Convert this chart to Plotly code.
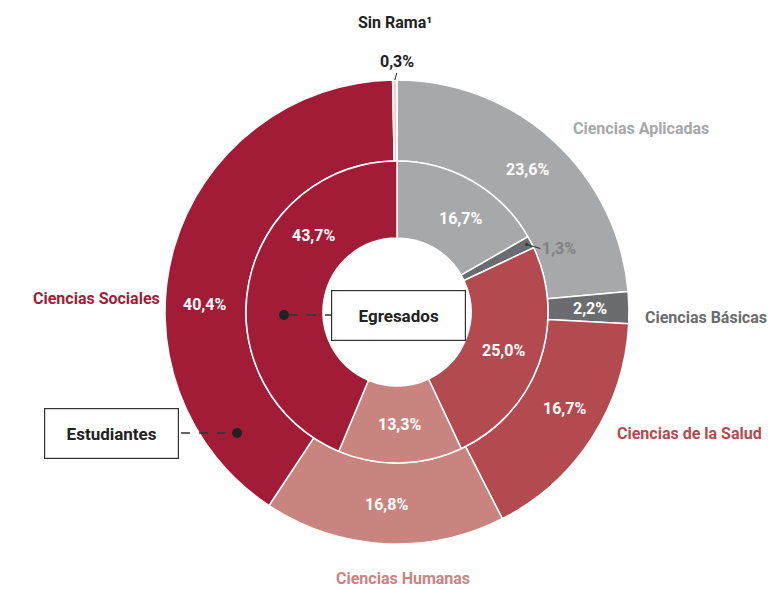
import math
import plotly.graph_objects as go

# lienzo
W, H = 773, 589
CX, CY = 397, 312          # centro de los anillos (px)
R_OUT, R_IN, R_HOLE = 232, 151, 74

categorias = ["Ciencias Aplicadas", "Ciencias Básicas", "Ciencias de la Salud",
              "Ciencias Humanas", "Ciencias Sociales", "Sin Rama"]
estudiantes = [23.6, 2.2, 16.7, 16.8, 40.4, 0.3]
egresados = [16.7, 1.3, 25.0, 13.3, 43.7, 0.0]

colores = ["#A7A8AA", "#6B6C6F", "#B34A50", "#CA8480", "#A31C37", "#EFD2D2"]
colores_texto = ["#A7A8AA", "#6B6C6F", "#B34A50", "#CA8480", "#A31C37", "#222222"]

FONT = "Roboto"


def px(x):
    return x / W


def py(y):
    return 1 - y / H


def polar(ang, r):
    a = math.radians(ang)
    return CX + r * math.sin(a), CY - r * math.cos(a)


def mid_angles(vals):
    total = sum(vals)
    out, acc = [], 0
    for v in vals:
        out.append((acc + v / 2) / total * 360)
        acc += v
    return out


def fmt(v):
    return f"{v:.1f}".replace(".", ",") + "%"


def domain(r):
    return dict(x=[px(CX - r), px(CX + r)], y=[py(CY + r), py(CY - r)])


fig = go.Figure()

fig.add_trace(go.Pie(
    labels=categorias, values=estudiantes, name="Estudiantes",
    sort=False, direction="clockwise", rotation=0,
    hole=R_IN / R_OUT, domain=domain(R_OUT),
    marker=dict(colors=colores, line=dict(color="white", width=1.5)),
    textinfo="none", showlegend=False,
))

inner = [(c, v, col) for c, v, col in zip(categorias, egresados, colores) if v > 0]
fig.add_trace(go.Pie(
    labels=[i[0] for i in inner], values=[i[1] for i in inner], name="Egresados",
    sort=False, direction="clockwise", rotation=0,
    hole=R_HOLE / R_IN, domain=domain(R_IN),
    marker=dict(colors=[i[2] for i in inner], line=dict(color="white", width=1.5)),
    textinfo="none", showlegend=False,
))

annotations = []

# porcentajes anillo exterior
ang_out = mid_angles(estudiantes)
ajuste_out = {2: -3, 4: -14}
for i, v in enumerate(estudiantes):
    if i == 5:
        continue
    x, y = polar(ang_out[i] + ajuste_out.get(i, 0), 193)
    annotations.append(dict(x=px(x), y=py(y), xref="paper", yref="paper",
                            xanchor="center", yanchor="middle",
                            text=f"<b>{fmt(v)}</b>", showarrow=False,
                            font=dict(family=FONT, size=16, color="white")))

# Sin Rama 0,3%
x, y = polar(ang_out[5], R_OUT)
annotations.append(dict(x=px(x), y=py(y), xref="paper", yref="paper",
                        ax=2, ay=-7, xanchor="center", yanchor="bottom",
                        text=f"<b>{fmt(estudiantes[5])}</b>", showarrow=True,
                        arrowhead=0, arrowwidth=1, arrowcolor="#222", standoff=0,
                        font=dict(family=FONT, size=16, color="#222")))

# porcentajes anillo interior
ang_in = mid_angles(egresados)
ajuste_in = {4: 31, 0: 4}
for i, v in enumerate(egresados):
    if v == 0 or i == 1:
        continue
    x, y = polar(ang_in[i] + ajuste_in.get(i, 0), 113)
    annotations.append(dict(x=px(x), y=py(y), xref="paper", yref="paper",
                            xanchor="center", yanchor="middle",
                            text=f"<b>{fmt(v)}</b>", showarrow=False,
                            font=dict(family=FONT, size=16, color="white")))

# Ciencias Básicas egresados 1,3% (fuera)
x, y = polar(ang_in[1], 146)
annotations.append(dict(x=px(x), y=py(y), xref="paper", yref="paper",
                        ax=14, ay=4, xanchor="left", yanchor="middle",
                        text=f"<b>{fmt(egresados[1])}</b>", showarrow=True,
                        arrowhead=6, arrowsize=0.6, arrowwidth=1.2, arrowcolor="#333",
                        font=dict(family=FONT, size=16, color="#808183")))

# nombres de categorías
nombres = [
    ("Ciencias Aplicadas", 571, 128, "left"),
    ("Ciencias Básicas", 643, 317, "left"),
    ("Ciencias de la Salud", 615, 433, "left"),
    ("Ciencias Humanas", 403, 578, "center"),
    ("Ciencias Sociales", 162, 298, "right"),
    ("Sin Rama¹", 395, 22, "center"),
]
for (txt, x, y, anc), c in zip(nombres, colores_texto):
    annotations.append(dict(x=px(x), y=py(y), xref="paper", yref="paper",
                            text=f"<b>{txt}</b>", showarrow=False,
                            xanchor=anc, yanchor="middle",
                            font=dict(family=FONT, size=16, color=c)))

# cajas de leyenda
for txt, cx, cy in [("Egresados", 398, 315), ("Estudiantes", 112, 433)]:
    annotations.append(dict(x=px(cx), y=py(cy), xref="paper", yref="paper",
                            xanchor="center", yanchor="middle",
                            text=f"<b>{txt}</b>", showarrow=False,
                            width=129, height=45, bgcolor="white",
                            bordercolor="#333", borderwidth=1.2, borderpad=2,
                            font=dict(family=FONT, size=17, color="#222")))

shapes = []
for x0, x1, y0, dotx in [(289, 331, 315, 284), (181, 232, 433, 237)]:
    shapes.append(dict(type="line", xref="paper", yref="paper",
                       x0=px(x0), x1=px(x1), y0=py(y0), y1=py(y0),
                       line=dict(color="#333", width=1.3, dash="dash")))
    shapes.append(dict(type="circle", xref="paper", yref="paper",
                       x0=px(dotx - 5), x1=px(dotx + 5), y0=py(y0 + 5), y1=py(y0 - 5),
                       fillcolor="#222", line=dict(color="#222", width=0)))

fig.update_layout(
    width=W, height=H,
    margin=dict(l=0, r=0, t=0, b=0),
    paper_bgcolor="white", plot_bgcolor="white",
    annotations=annotations, shapes=shapes,
    showlegend=False,
)

fig.write_html("out.html", config={"displayModeBar": False},
               post_script="document.body.style.margin='0';")
